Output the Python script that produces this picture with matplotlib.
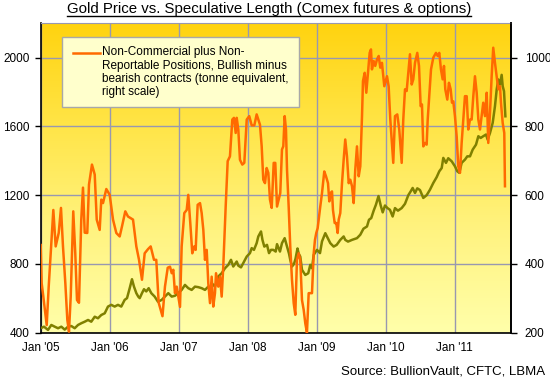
import numpy as np
import matplotlib
matplotlib.use("Agg")
import matplotlib.pyplot as plt
from matplotlib.lines import Line2D
from matplotlib.patches import Rectangle
from matplotlib.colors import LinearSegmentedColormap

plt.rcParams['font.family'] = ['Liberation Sans', 'DejaVu Sans']

# ---------------- data ----------------
# Non-commercial + non-reportable net long (tonnes), time in years since Jan 2005
spec_t = [0.000, 0.014, 0.038, 0.087, 0.116, 0.183, 0.217, 0.261, 0.294, 0.323, 0.357, 0.386,
          0.410, 0.435, 0.472, 0.501, 0.526, 0.555, 0.588, 0.613, 0.638, 0.675, 0.700, 0.743,
          0.783, 0.812, 0.855, 0.878, 0.903, 0.951, 1.000, 1.048, 1.096, 1.145, 1.178, 1.226,
          1.265, 1.304, 1.338, 1.386, 1.425, 1.468, 1.507, 1.555, 1.594, 1.642, 1.675, 1.710,
          1.765, 1.801, 1.841, 1.874, 1.899, 1.922, 1.946, 1.971, 1.994, 2.019, 2.043, 2.081,
          2.116, 2.139, 2.168, 2.197, 2.226, 2.246, 2.275, 2.309, 2.333, 2.357, 2.381, 2.406,
          2.429, 2.454, 2.478, 2.501, 2.526, 2.541, 2.574, 2.599, 2.623, 2.646, 2.681, 2.710,
          2.743, 2.777, 2.801, 2.826, 2.841, 2.864, 2.888, 2.922, 2.951, 2.986, 3.023, 3.058,
          3.096, 3.130, 3.154, 3.178, 3.203, 3.226, 3.251, 3.275, 3.299, 3.323, 3.348, 3.377,
          3.400, 3.425, 3.449, 3.472, 3.497, 3.516, 3.536, 3.555, 3.570, 3.594, 3.617, 3.642,
          3.667, 3.690, 3.714, 3.739, 3.762, 3.787, 3.812, 3.835, 3.859, 3.884, 3.932, 3.957,
          3.975, 3.994, 4.014, 4.029, 4.052, 4.077, 4.110, 4.135, 4.164, 4.183, 4.203, 4.222,
          4.236, 4.261, 4.284, 4.304, 4.319, 4.342, 4.367, 4.391, 4.414, 4.439, 4.464, 4.487,
          4.512, 4.536, 4.559, 4.584, 4.609, 4.632, 4.657, 4.671, 4.696, 4.719, 4.743, 4.768,
          4.787, 4.801, 4.826, 4.849, 4.874, 4.899, 4.922, 4.946, 4.980, 5.019, 5.043, 5.067,
          5.091, 5.110, 5.135, 5.168, 5.197, 5.232, 5.255, 5.280, 5.304, 5.328, 5.352, 5.377,
          5.400, 5.425, 5.458, 5.483, 5.507, 5.526, 5.545, 5.570, 5.594, 5.609, 5.632, 5.657,
          5.690, 5.729, 5.754, 5.777, 5.801, 5.826, 5.845, 5.864, 5.893, 5.917, 5.942, 5.961,
          5.980, 6.004, 6.029, 6.052, 6.077, 6.101, 6.125, 6.149, 6.174, 6.197, 6.222, 6.246,
          6.270, 6.294, 6.319, 6.343, 6.367, 6.391, 6.414, 6.439, 6.464, 6.487, 6.512, 6.536,
          6.559, 6.584, 6.609, 6.632, 6.657, 6.671, 6.696, 6.719, 6.729]
spec_tonnes = [455, 344, 305, 222, 334, 557, 451, 490, 563, 451, 344, 237,
               203, 305, 553, 431, 295, 287, 529, 622, 491, 490, 631, 689,
               660, 529, 499, 587, 577, 618, 601, 529, 490, 480, 509, 553,
               538, 533, 529, 451, 412, 354, 431, 443, 451, 412, 412, 287,
               248, 334, 389, 392, 373, 383, 315, 334, 305, 275, 451, 548,
               557, 601, 519, 431, 451, 441, 572, 577, 548, 499, 412, 441,
               344, 286, 363, 276, 315, 373, 334, 363, 305, 392, 567, 699,
               713, 820, 825, 781, 825, 791, 703, 689, 694, 820, 830, 803,
               803, 835, 820, 805, 742, 645, 635, 679, 665, 587, 563, 694,
               694, 567, 587, 606, 733, 742, 830, 791, 674, 567, 451, 354,
               286, 252, 412, 431, 412, 295, 266, 227, 200, 315, 315, 431,
               470, 490, 504, 529, 567, 606, 669, 655, 635, 582, 606, 611,
               557, 519, 519, 490, 529, 548, 635, 703, 762, 713, 635, 645,
               626, 577, 674, 742, 655, 684, 830, 932, 956, 898, 956, 1014,
               1024, 966, 990, 976, 995, 1005, 971, 985, 917, 946, 917, 820,
               752, 694, 830, 835, 791, 694, 820, 908, 903, 956, 1010, 922,
               937, 985, 1014, 976, 859, 864, 742, 752, 747, 820, 888, 966,
               1000, 1014, 1005, 1014, 966, 937, 976, 908, 878, 927, 908, 869,
               873, 830, 771, 684, 665, 752, 820, 888, 888, 791, 820, 820,
               888, 946, 898, 820, 791, 830, 869, 830, 898, 752, 840, 946,
               1029, 985, 946, 908, 917, 869, 810, 781, 626]

# Gold price (USD/oz), time in years since Jan 2005
gold_t = [0.000, 0.048, 0.106, 0.154, 0.203, 0.251, 0.299, 0.348, 0.396, 0.443, 0.493, 0.541,
          0.588, 0.638, 0.686, 0.733, 0.783, 0.830, 0.878, 0.928, 0.975, 1.023, 1.072, 1.120,
          1.168, 1.217, 1.251, 1.290, 1.323, 1.352, 1.386, 1.414, 1.435, 1.468, 1.497, 1.530,
          1.565, 1.603, 1.652, 1.700, 1.754, 1.801, 1.849, 1.899, 1.946, 1.994, 2.043, 2.091,
          2.139, 2.188, 2.236, 2.284, 2.333, 2.381, 2.429, 2.454, 2.478, 2.526, 2.574, 2.623,
          2.671, 2.719, 2.758, 2.791, 2.841, 2.864, 2.903, 2.936, 2.986, 3.033, 3.058, 3.091,
          3.130, 3.154, 3.193, 3.214, 3.241, 3.280, 3.309, 3.338, 3.371, 3.406, 3.425, 3.468,
          3.497, 3.536, 3.570, 3.599, 3.617, 3.642, 3.671, 3.693, 3.722, 3.739, 3.762, 3.787,
          3.835, 3.878, 3.907, 3.932, 3.957, 4.004, 4.048, 4.077, 4.125, 4.149, 4.197, 4.246,
          4.290, 4.342, 4.391, 4.414, 4.454, 4.512, 4.584, 4.632, 4.678, 4.729, 4.758, 4.791,
          4.826, 4.859, 4.896, 4.928, 4.957, 4.990, 5.026, 5.062, 5.101, 5.135, 5.178, 5.232,
          5.280, 5.328, 5.362, 5.391, 5.425, 5.458, 5.497, 5.545, 5.594, 5.642, 5.690, 5.739,
          5.777, 5.812, 5.835, 5.874, 5.907, 5.957, 6.004, 6.038, 6.067, 6.101, 6.149, 6.183,
          6.222, 6.261, 6.309, 6.343, 6.377, 6.414, 6.454, 6.478, 6.512, 6.551, 6.584, 6.609,
          6.632, 6.657, 6.681, 6.696, 6.715, 6.735]
gold_usd = [426, 435, 416, 445, 435, 426, 435, 418, 435, 439, 426, 445,
            455, 464, 474, 464, 493, 484, 503, 513, 552, 562, 552, 562,
            552, 591, 601, 659, 711, 668, 630, 610, 601, 630, 653, 640,
            659, 630, 610, 580, 591, 610, 630, 610, 615, 630, 649, 678,
            659, 649, 668, 665, 659, 649, 668, 655, 688, 668, 727, 746,
            775, 795, 824, 785, 814, 790, 780, 805, 843, 863, 892, 882,
            921, 960, 989, 940, 901, 911, 863, 882, 882, 872, 915, 872,
            921, 950, 901, 860, 824, 785, 800, 830, 890, 860, 843, 766,
            736, 746, 795, 775, 853, 882, 863, 931, 979, 960, 921, 901,
            911, 940, 960, 940, 930, 940, 950, 970, 1005, 1018, 1057, 1067,
            1110, 1145, 1195, 1140, 1100, 1140, 1125, 1115, 1076, 1125, 1110, 1125,
            1150, 1200, 1222, 1242, 1213, 1240, 1230, 1184, 1200, 1232, 1271, 1305,
            1339, 1358, 1417, 1388, 1415, 1397, 1368, 1339, 1330, 1388, 1407, 1426,
            1426, 1465, 1494, 1543, 1533, 1543, 1553, 1523, 1562, 1621, 1718, 1815,
            1873, 1844, 1900, 1834, 1805, 1659]

start_year = 2005
x_tick_years = [2005, 2006, 2007, 2008, 2009, 2010, 2011]
x_tick_labels = ["Jan '05", "Jan '06", "Jan '07", "Jan '08", "Jan '09", "Jan '10", "Jan '11"]
left_ticks = [400, 800, 1200, 1600, 2000]
right_ticks = [200, 400, 600, 800, 1000]

title = "Gold Price vs. Speculative Length (Comex futures & options)"
legend_label = ("Non-Commercial plus Non-\nReportable Positions, Bullish minus\n"
                "bearish contracts (tonne equivalent,\nright scale)")
source = "Source: BullionVault, CFTC, LBMA"

# ---------------- figure ----------------
W, H = 550, 380
fig = plt.figure(figsize=(W / 100, H / 100), dpi=100)
fig.patch.set_facecolor('white')
L, R, T, B = 40.7, 510.7, 23.3, 332.7
ax = fig.add_axes([L / W, 1 - B / H, (R - L) / W, (B - T) / H])
ax2 = ax.twinx()

# background gradient
cmap = LinearSegmentedColormap.from_list('bg', ['#FFFFAA', '#FFF380', '#FFE548', '#FFD30F'])
grad = np.linspace(0, 1, 256).reshape(-1, 1)
ax.imshow(grad, cmap=cmap, extent=[0, 1, 0, 1], transform=ax.transAxes,
          aspect='auto', origin='lower', zorder=-2, interpolation='bicubic')

ax.plot(start_year + np.array(gold_t), gold_usd, color='#808000', lw=1.8, zorder=3,
        solid_joinstyle='round')
ax2.plot(start_year + np.array(spec_t), spec_tonnes, color='#FF6A00', lw=1.8, zorder=3,
         solid_joinstyle='round')

ax.set_xlim(start_year, start_year + 6.812)
ax.set_ylim(400, 2200)
ax2.set_ylim(200, 1100)

ax.set_xticks(x_tick_years)
ax.set_xticklabels(x_tick_labels)
ax.set_yticks(left_ticks)
ax2.set_yticks(right_ticks)

gridc = '#9898B0'
ax.set_axisbelow(True)
ax.grid(True, color=gridc, lw=1)

for a in (ax, ax2):
    a.tick_params(labelsize=8.5, colors='black')
ax.tick_params(axis='x', length=0, pad=7)
ax.tick_params(axis='y', direction='out', length=4, width=1, pad=4)
ax2.tick_params(axis='y', direction='out', length=4, width=1, pad=6)

ax.spines['top'].set_color(gridc)
for s in ('left', 'bottom', 'right'):
    ax.spines[s].set_color('black')
    ax.spines[s].set_linewidth(1.2)
for s in ('top', 'left', 'bottom'):
    ax2.spines[s].set_visible(False)
ax2.spines['right'].set_color('black')
ax2.spines['right'].set_linewidth(1.2)

# legend box (drawn manually to match reference layout)
bx0, by0, bx1, by1 = 61.7, 37.3, 299.3, 107.3
fig.add_artist(Rectangle((bx0 / W, 1 - by1 / H), (bx1 - bx0) / W, (by1 - by0) / H,
                         transform=fig.transFigure, facecolor='#FFFFCC',
                         edgecolor='#A8A8A8', lw=1, zorder=5))
fig.add_artist(Line2D([73.3 / W, 100 / W], [1 - 53.3 / H, 1 - 53.3 / H],
                      transform=fig.transFigure, color='#FF6A00', lw=1.8, zorder=6))
fig.text(102.3 / W, 1 - 46.5 / H, legend_label, ha='left', va='top', fontsize=8.5,
         linespacing=1.13, zorder=7)

# title with underline
ttl = fig.text(269 / W, 1 - 9 / H, title, ha='center', va='center', fontsize=10.8)
fig.canvas.draw()
bb = ttl.get_window_extent()
fig.add_artist(Line2D([bb.x0 / W, bb.x1 / W], [1 - 16.2 / H, 1 - 16.2 / H],
                      transform=fig.transFigure, color='black', lw=1))

fig.text(545 / W, 1 - 372 / H, source, ha='right', va='center', fontsize=9.5)

fig.savefig('out.png', dpi=100)
